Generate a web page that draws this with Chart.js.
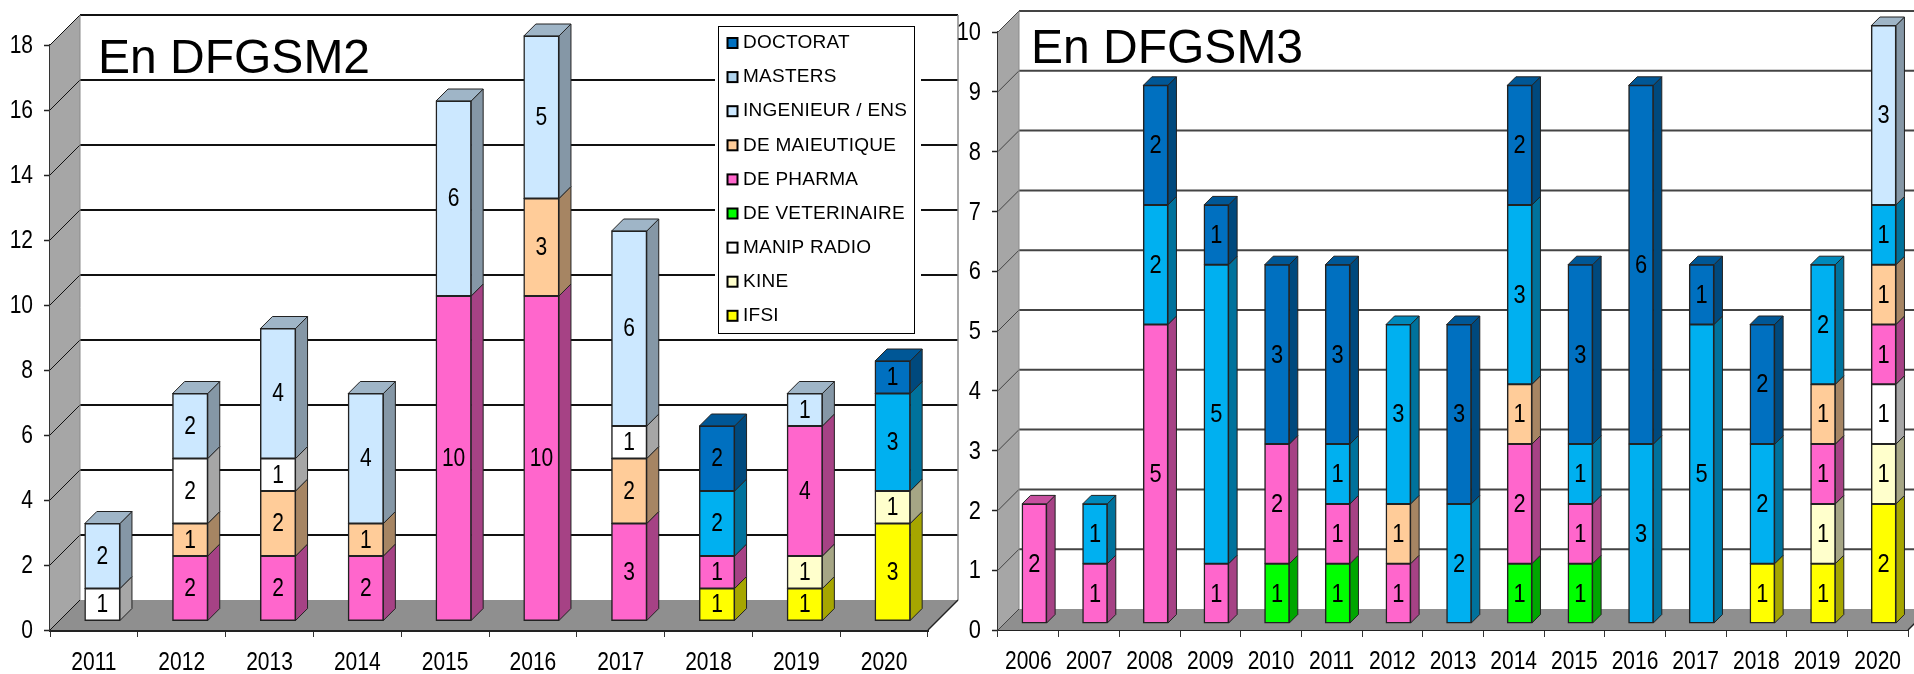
<!DOCTYPE html>
<html>
<head>
<meta charset="utf-8">
<title>DFGSM2 / DFGSM3</title>
<script src="https://cdn.jsdelivr.net/npm/chart.js@4"></script>
<style>
    html, body { margin: 0; padding: 0; background: #fff; overflow: hidden; }
    #wrap { position: relative; width: 1914px; height: 674px; overflow: hidden; }
    canvas { position: absolute; top: 0; }
    #chart2 { left: 0; }
    #chart3 { left: 958px; }
</style>
</head>
<body>
<div id="wrap">
    <canvas id="chart2" width="960" height="674"></canvas>
    <canvas id="chart3" width="956" height="674"></canvas>
</div>
<script>
// Data, one array per series (null = no segment)
const years2 = ['2011', '2012', '2013', '2014', '2015', '2016', '2017', '2018', '2019', '2020'];
const ifsi2 =    [null, null, null, null, null, null, null, 1, 1, 3];
const kine2 =    [null, null, null, null, null, null, null, null, 1, 1];
const pharma2 =  [null, 2, 2, 2, 10, 10, 3, 1, 4, null];
const maieu2 =   [null, 1, 2, 1, null, 3, 2, null, null, null];
const radio2 =   [1, 2, 1, null, null, null, 1, null, null, null];
const masters2 = [null, null, null, null, null, null, null, 2, null, 3];
const inge2 =    [2, 2, 4, 4, 6, 5, 6, null, 1, null];
const doctorat2 = [null, null, null, null, null, null, null, 2, null, 1];

const years3 = ['2006', '2007', '2008', '2009', '2010', '2011', '2012', '2013', '2014', '2015', '2016', '2017', '2018', '2019', '2020'];
const ifsi3 =    [null, null, null, null, null, null, null, null, null, null, null, null, 1, 1, 2];
const kine3 =    [null, null, null, null, null, null, null, null, null, null, null, null, null, 1, 1];
const radio3 =   [null, null, null, null, null, null, null, null, null, null, null, null, null, null, 1];
const veto3 =    [null, null, null, null, 1, 1, null, null, 1, 1, null, null, null, null, null];
const pharma3 =  [2, 1, 5, 1, 2, 1, 1, null, 2, 1, null, null, null, 1, 1];
const maieu3 =   [null, null, null, null, null, null, 1, null, 1, null, null, null, null, 1, 1];
const masters3 = [null, 1, 2, 5, null, 1, 3, 2, 3, 1, 3, 5, 2, 2, 1];
const inge3 =    [null, null, null, null, null, null, null, null, null, null, null, null, null, null, 3];
const doctorat3 = [null, null, 2, 1, 3, 3, null, 3, 2, 3, 6, 1, 2, null, null];

const legendNames = ['DOCTORAT', 'MASTERS', 'INGENIEUR / ENS', 'DE MAIEUTIQUE', 'DE PHARMA', 'DE VETERINAIRE', 'MANIP RADIO', 'KINE', 'IFSI'];
const legendColors = ['#0070c0', '#b0d4ee', '#cce8ff', '#ffcc99', '#ff66cc', '#00ff00', '#ffffff', '#ffffcc', '#ffff00'];

const C_DOC = '#0070c0', C_MAS = '#00b0f0', C_ING = '#cce8ff', C_MAI = '#ffcc99';
const C_PHA = '#ff66cc', C_VET = '#00ff00', C_RAD = '#ffffff', C_KIN = '#ffffcc', C_IFS = '#ffff00';

const plain = '"Liberation Sans", Arial, sans-serif';

// darken a #rrggbb colour for the side and top faces
function shade(hex, f) {
    const n = parseInt(hex.slice(1), 16);
    const r = Math.round((n >> 16 & 255) * f);
    const g = Math.round((n >> 8 & 255) * f);
    const b = Math.round((n & 255) * f);
    return `rgb(${r},${g},${b})`;
}

function poly(ctx, pts, fill, stroke, lw) {
    ctx.beginPath();
    pts.forEach((p, i) => i ? ctx.lineTo(p[0], p[1]) : ctx.moveTo(p[0], p[1]));
    ctx.closePath();
    if (fill) { ctx.fillStyle = fill; ctx.fill(); }
    if (stroke) { ctx.strokeStyle = stroke; ctx.lineWidth = lw || 1; ctx.stroke(); }
}

function line(ctx, x1, y1, x2, y2, color, lw) {
    ctx.beginPath();
    ctx.moveTo(x1, y1);
    ctx.lineTo(x2, y2);
    ctx.strokeStyle = color;
    ctx.lineWidth = lw;
    ctx.stroke();
}

// the picture's numbers are tall and thin, no narrow face is available here
function thinText(ctx, text, x, y, size, squeeze, align) {
    ctx.save();
    ctx.translate(x, y);
    ctx.scale(squeeze, 1);
    ctx.font = `${size}px ${plain}`;
    ctx.fillStyle = '#000';
    ctx.textAlign = align;
    ctx.textBaseline = 'middle';
    ctx.fillText(text, 0, 0);
    ctx.restore();
}

// Walls, floor, bar depth, value labels, tick labels, title and legend
const box3d = {
    id: 'box3d',
    beforeDatasetsDraw(chart, args, o) {
        const ctx = chart.ctx;
        const a = chart.chartArea;
        const yScale = chart.scales.y;
        const top = yScale.getPixelForValue(yScale.max);
        ctx.save();
        poly(ctx, [[a.left, a.bottom], [a.left + o.wallX, a.bottom - o.wallY], [a.left + o.wallX, top - o.wallY], [a.left, top]], '#a6a6a6');
        poly(ctx, [[a.left, a.bottom], [a.right, a.bottom], [a.right + o.wallX, a.bottom - o.wallY], [a.left + o.wallX, a.bottom - o.wallY]], '#8f8f8f');
        yScale.ticks.forEach(t => {
            const y = yScale.getPixelForValue(t.value);
            if (t.value > 0) {
                line(ctx, a.left + o.wallX, y - o.wallY, a.right + o.wallX, y - o.wallY, o.gridColor, o.gridWidth);
            }
            line(ctx, a.left, y, a.left + o.wallX, y - o.wallY, o.gridColor, 1);
        });
        line(ctx, a.left + o.wallX, top - o.wallY, a.left + o.wallX, a.bottom - o.wallY, '#8a8a8a', 1);
        line(ctx, a.right + o.wallX, top - o.wallY, a.right + o.wallX, a.bottom - o.wallY, '#8a8a8a', 1.5);
        line(ctx, a.right, a.bottom, a.right + o.wallX, a.bottom - o.wallY, '#222', 1.5);
        ctx.restore();

        // bars sit inside the box, so push them back off the front axis
        ctx.save();
        ctx.translate(o.barX, o.barY);
        const stackTop = {};
        chart.data.datasets.forEach((ds, d) => {
            ds.data.forEach((v, i) => { if (v) stackTop[i] = d; });
        });
        chart.data.datasets.forEach((ds, d) => {
            const meta = chart.getDatasetMeta(d);
            ds.data.forEach((v, i) => {
                if (!v) return;
                const el = meta.data[i];
                const right = el.x + el.width / 2;
                const left = el.x - el.width / 2;
                poly(ctx, [[right, el.base], [right + o.depth, el.base - o.depth], [right + o.depth, el.y - o.depth], [right, el.y]], shade(ds.backgroundColor, 0.65), '#222', 1);
                if (stackTop[i] === d) {
                    poly(ctx, [[left, el.y], [left + o.depth, el.y - o.depth], [right + o.depth, el.y - o.depth], [right, el.y]], shade(ds.backgroundColor, 0.78), '#222', 1);
                }
            });
        });
    },
    afterDatasetsDraw(chart, args, o) {
        const ctx = chart.ctx;
        chart.data.datasets.forEach((ds, d) => {
            const meta = chart.getDatasetMeta(d);
            ds.data.forEach((v, i) => {
                if (!v) return;
                const el = meta.data[i];
                thinText(ctx, String(v), el.x, (el.y + el.base) / 2 + 1, o.labelSize, 0.84, 'center');
            });
        });
        ctx.restore();

        const a = chart.chartArea;
        const xScale = chart.scales.x;
        const yScale = chart.scales.y;
        xScale.ticks.forEach((t, i) => {
            thinText(ctx, xScale.getLabelForValue(t.value), xScale.getPixelForTick(i), a.bottom + o.xLabelGap, o.xSize, 0.84, 'center');
        });
        yScale.ticks.forEach(t => {
            thinText(ctx, t.label, a.left - 17, yScale.getPixelForValue(t.value) + 1, o.ySize, 0.84, 'right');
        });

        ctx.save();
        ctx.fillStyle = '#000';
        ctx.font = `48px ${plain}`;
        ctx.textAlign = 'left';
        ctx.textBaseline = 'alphabetic';
        ctx.fillText(o.title, o.titleX, o.titleY);
        ctx.restore();

        if (o.legend) drawLegend(ctx);
    }
};

function drawLegend(ctx) {
    ctx.save();
    ctx.fillStyle = '#fff';
    ctx.fillRect(715, 24, 206, 312);
    ctx.strokeStyle = '#000';
    ctx.lineWidth = 1;
    ctx.strokeRect(718.5, 26.5, 196, 307);
    ctx.font = `19px ${plain}`;
    ctx.letterSpacing = '0.25px';
    ctx.textAlign = 'left';
    ctx.textBaseline = 'middle';
    legendNames.forEach((name, i) => {
        const y = 43 + i * 34.1;
        ctx.fillStyle = legendColors[i];
        ctx.fillRect(727.5, y - 5, 10, 10);
        ctx.lineWidth = 2;
        ctx.strokeRect(727.5, y - 5, 10, 10);
        ctx.fillStyle = '#000';
        ctx.fillText(name, 743, y);
    });
    ctx.restore();
}

function series(label, data, color, share) {
    return {
        label: label,
        data: data,
        backgroundColor: color,
        borderColor: '#222',
        borderWidth: 1.5,
        borderSkipped: false,
        inflateAmount: 0.5,
        barPercentage: share,
        categoryPercentage: 1,
        clip: false
    };
}

function makeChart(id, labels, datasets, s) {
    return new Chart(document.getElementById(id), {
        type: 'bar',
        data: { labels: labels, datasets: datasets },
        plugins: [box3d],
        options: {
            responsive: false,
            animation: false,
            layout: { padding: s.padding },
            plugins: {
                legend: { display: false },
                title: { display: false },
                tooltip: { enabled: false },
                box3d: s.box
            },
            scales: {
                x: {
                    stacked: true,
                    afterFit(scale) { scale.height = 44; },
                    border: { color: '#222', width: s.floorLine },
                    grid: { drawOnChartArea: false, offset: true, tickLength: 7, tickColor: '#333', tickWidth: 1 },
                    ticks: { display: false, autoSkip: false, maxRotation: 0 }
                },
                y: {
                    stacked: true,
                    min: 0,
                    max: s.yMax,
                    afterFit(scale) { scale.width = s.yWidth; },
                    border: { color: '#333', width: 1.5 },
                    grid: { drawOnChartArea: false, tickLength: 6, tickColor: '#222', tickWidth: 1.5 },
                    ticks: { display: false, stepSize: s.yStep }
                }
            }
        }
    });
}

function build() {
    const stack2 = [
        ['IFSI', ifsi2, C_IFS], ['KINE', kine2, C_KIN], ['DE PHARMA', pharma2, C_PHA], ['DE MAIEUTIQUE', maieu2, C_MAI],
        ['MANIP RADIO', radio2, C_RAD], ['MASTERS', masters2, C_MAS], ['INGENIEUR / ENS', inge2, C_ING], ['DOCTORAT', doctorat2, C_DOC]
    ];
    const stack3 = [
        ['IFSI', ifsi3, C_IFS], ['KINE', kine3, C_KIN], ['MANIP RADIO', radio3, C_RAD], ['DE VETERINAIRE', veto3, C_VET],
        ['DE PHARMA', pharma3, C_PHA], ['DE MAIEUTIQUE', maieu3, C_MAI], ['MASTERS', masters3, C_MAS], ['INGENIEUR / ENS', inge3, C_ING], ['DOCTORAT', doctorat3, C_DOC]
    ];

    makeChart('chart2', years2, stack2.map(r => series(r[0], r[1], r[2], 0.4)), {
        padding: { left: 0, right: 32, top: 45, bottom: 0 },
        yWidth: 50, yMax: 18, yStep: 2, floorLine: 3,
        box: { wallX: 30, wallY: 30, depth: 12, barX: 8.5, barY: -9, gridColor: '#111', gridWidth: 1.8, labelSize: 25, xSize: 25, ySize: 25, xLabelGap: 33, title: 'En DFGSM2', titleX: 98, titleY: 73, legend: true }
    });

    makeChart('chart3', years3, stack3.map(r => series(r[0], r[1], r[2], 0.405)), {
        padding: { left: 0, right: 6, top: 32, bottom: 0 },
        yWidth: 40, yMax: 10, yStep: 1, floorLine: 2,
        box: { wallX: 21, wallY: 21, depth: 8.5, barX: 6, barY: -6.5, gridColor: '#444', gridWidth: 2, labelSize: 26, xSize: 25, ySize: 26, xLabelGap: 32, title: 'En DFGSM3', titleX: 73, titleY: 63, legend: false }
    });
}

window.onload = build;
</script>
</body>
</html>
